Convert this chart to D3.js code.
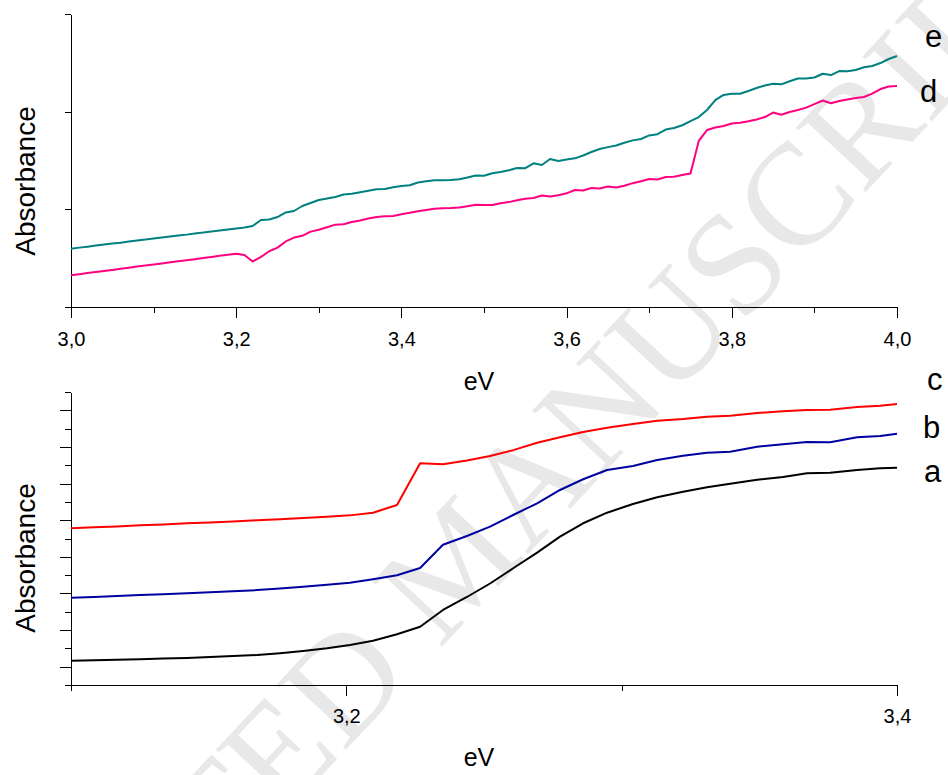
<!DOCTYPE html>
<html>
<head>
<meta charset="utf-8">
<script src="https://cdn.jsdelivr.net/npm/d3@7"></script>
<style>
  body { margin: 0; background: #fff; }
  text { font-family: "Liberation Sans", Arial, sans-serif; }
</style>
</head>
<body>
<div id="chart"></div>
<script>
// top panel: eV grid and the two spectra (d, e)
const topEV = [3.00,3.01,3.02,3.03,3.04,3.05,3.06,3.07,3.08,3.09,
  3.10,3.11,3.12,3.13,3.14,3.15,3.16,3.17,3.18,3.19,
  3.20,3.21,3.22,3.23,3.24,3.25,3.26,3.27,3.28,3.29,
  3.30,3.31,3.32,3.33,3.34,3.35,3.36,3.37,3.38,3.39,
  3.40,3.41,3.42,3.43,3.44,3.45,3.46,3.47,3.48,3.49,
  3.50,3.51,3.52,3.53,3.54,3.55,3.56,3.57,3.58,3.59,
  3.60,3.61,3.62,3.63,3.64,3.65,3.66,3.67,3.68,3.69,
  3.70,3.71,3.72,3.73,3.74,3.75,3.76,3.77,3.78,3.79,
  3.80,3.81,3.82,3.83,3.84,3.85,3.86,3.87,3.88,3.89,
  3.90,3.91,3.92,3.93,3.94,3.95,3.96,3.97,3.98,3.99,4.00];

const seriesE = [0.597,0.608,0.618,0.629,0.639,0.650,0.659,0.671,0.681,0.690,
  0.701,0.711,0.722,0.732,0.741,0.753,0.762,0.774,0.783,0.793,
  0.804,0.814,0.830,0.891,0.896,0.921,0.968,0.983,1.034,1.065,
  1.096,1.111,1.126,1.152,1.159,1.174,1.190,1.205,1.208,1.226,
  1.239,1.247,1.275,1.287,1.298,1.298,1.300,1.307,1.326,1.346,
  1.344,1.369,1.382,1.401,1.423,1.421,1.471,1.454,1.515,1.495,
  1.510,1.522,1.551,1.587,1.618,1.637,1.654,1.682,1.706,1.720,
  1.757,1.769,1.817,1.833,1.861,1.904,1.945,2.017,2.119,2.171,
  2.184,2.184,2.212,2.242,2.268,2.285,2.280,2.311,2.339,2.339,
  2.350,2.388,2.375,2.416,2.413,2.427,2.455,2.468,2.498,2.539,2.570];

const seriesD = [0.325,0.336,0.347,0.358,0.369,0.380,0.391,0.402,0.414,0.424,
  0.435,0.446,0.458,0.468,0.479,0.490,0.502,0.513,0.524,0.534,
  0.546,0.532,0.466,0.513,0.571,0.608,0.671,0.711,0.729,0.772,
  0.791,0.816,0.843,0.848,0.870,0.886,0.906,0.921,0.928,0.932,
  0.950,0.964,0.981,0.993,1.005,1.011,1.014,1.019,1.032,1.046,
  1.044,1.044,1.063,1.074,1.093,1.108,1.116,1.142,1.131,1.144,
  1.164,1.198,1.193,1.218,1.213,1.234,1.224,1.242,1.268,1.288,
  1.311,1.305,1.331,1.334,1.351,1.366,1.700,1.812,1.838,1.853,
  1.879,1.886,1.902,1.920,1.945,1.991,1.969,1.997,2.017,2.041,
  2.078,2.114,2.086,2.109,2.125,2.140,2.150,2.184,2.232,2.258,2.263];

// bottom panel: eV points and spectra a, b, c
const botEV = [3.1000,3.1084,3.1167,3.1251,3.1334,3.1421,3.1505,3.1588,3.1676,3.1759,
  3.1843,3.1930,3.2013,3.2097,3.2184,3.2268,3.2351,3.2438,3.2522,3.2606,
  3.2693,3.2776,3.2860,3.2947,3.3041,3.3129,3.3223,3.3310,3.3394,3.3492,
  3.3586,3.3673,3.3757,3.3855,3.3939,3.4000];

const seriesA = [1.327,1.349,1.376,1.404,1.442,1.480,1.529,1.584,1.638,1.737,
  1.862,2.004,2.185,2.419,2.769,3.184,4.096,4.806,5.543,6.374,
  7.226,8.099,8.831,9.410,9.885,10.251,10.557,10.797,10.994,11.213,
  11.360,11.562,11.595,11.742,11.835,11.868];

const seriesB = [4.768,4.812,4.861,4.910,4.959,5.014,5.068,5.123,5.183,5.265,
  5.363,5.478,5.587,5.773,5.991,6.390,7.662,8.138,8.646,9.284,
  9.923,10.650,11.234,11.742,11.961,12.288,12.523,12.687,12.742,13.015,
  13.146,13.271,13.255,13.528,13.599,13.725];

const seriesC = [8.558,8.613,8.662,8.717,8.771,8.826,8.880,8.935,8.995,9.055,
  9.115,9.181,9.263,9.410,9.831,12.108,12.054,12.261,12.507,12.824,
  13.233,13.528,13.818,14.053,14.255,14.435,14.528,14.653,14.708,14.855,
  14.948,15.019,15.036,15.183,15.254,15.347];

const topMajor = [3.0, 3.2, 3.4, 3.6, 3.8, 4.0];
const topMinor = [3.1, 3.3, 3.5, 3.7, 3.9];
const botMajor = [3.2, 3.4];
const botMinor = [3.1, 3.3];
const topYTicks = [0, 1, 2, 3];
const botYLong = [1, 3, 5, 7, 9, 11, 13, 15];
const botYShort = [0, 2, 4, 6, 8, 10, 12, 14, 16];

const fmt = d => d3.format(".1f")(d).replace(".", ",");

function init() {
    const svg = d3.select("#chart")
        .append("svg")
        .attr("width", 948)
        .attr("height", 775);

    // watermark, partly outside the picture as in the original
    svg.append("text")
        .attr("transform", "translate(490,595) rotate(-47)")
        .attr("text-anchor", "middle")
        .style("font-family", "'Liberation Serif', 'Times New Roman', serif")
        .style("font-size", "145px")
        .attr("fill", "#e8e8e8")
        .text("ACCEPTED MANUSCRIPT");

    let xTop = d3.scaleLinear([3.0, 4.0], [71, 897]);
    let yTop = d3.scaleLinear([0, 3], [307, 14]);
    let xBot = d3.scaleLinear([3.1, 3.4], [71, 897]);
    let yBot = d3.scaleLinear([0, 16], [685, 392]);

    // top axes
    drawXAxis(svg, xTop, 307, topMajor, topMinor, 14);
    svg.append("g")
        .attr("transform", "translate(71,0)")
        .call(d3.axisLeft(yTop).tickValues(topYTicks).tickSize(6).tickSizeOuter(0).tickFormat(""))
        .call(styleAxis);

    // bottom axes
    drawXAxis(svg, xBot, 685, botMajor, botMinor, 13);
    svg.append("g")
        .attr("transform", "translate(71,0)")
        .call(d3.axisLeft(yBot).tickValues(botYShort).tickSize(6).tickSizeOuter(0).tickFormat(""))
        .call(styleAxis);
    svg.append("g")
        .attr("transform", "translate(71,0)")
        .call(d3.axisLeft(yBot).tickValues(botYLong).tickSize(11).tickSizeOuter(0).tickFormat(""))
        .call(styleAxis);

    drawLine(svg, topEV, seriesE, xTop, yTop, "#008080");
    drawLine(svg, topEV, seriesD, xTop, yTop, "#ff0080");
    drawLine(svg, botEV, seriesC, xBot, yBot, "#ff0000");
    drawLine(svg, botEV, seriesB, xBot, yBot, "#0000a0");
    drawLine(svg, botEV, seriesA, xBot, yBot, "#000000");

    // axis titles
    svg.append("text").attr("x", 479).attr("y", 390).attr("text-anchor", "middle")
        .style("font-size", "25px").text("eV");
    svg.append("text").attr("x", 479).attr("y", 766).attr("text-anchor", "middle")
        .style("font-size", "25px").text("eV");
    svg.append("text").attr("transform", "translate(35,181) rotate(-90)").attr("text-anchor", "middle")
        .style("font-size", "28px").text("Absorbance");
    svg.append("text").attr("transform", "translate(35,558) rotate(-90)").attr("text-anchor", "middle")
        .style("font-size", "28px").text("Absorbance");

    // curve labels
    const labels = [["e", 925, 47], ["d", 920, 102], ["c", 927, 390], ["b", 923, 438], ["a", 924, 482]];
    svg.selectAll("text.lab")
        .data(labels)
        .enter()
        .append("text")
        .attr("class", "lab")
        .attr("x", d => d[1])
        .attr("y", d => d[2])
        .style("font-size", "31px")
        .text(d => d[0]);
}

function drawXAxis(svg, x, y, major, minor, pad) {
    svg.append("g")
        .attr("transform", "translate(0," + y + ")")
        .call(d3.axisBottom(x).tickValues(minor).tickSize(6).tickSizeOuter(0).tickFormat(""))
        .call(styleAxis);
    svg.append("g")
        .attr("transform", "translate(0," + y + ")")
        .call(d3.axisBottom(x).tickValues(major).tickSize(11).tickSizeOuter(0).tickPadding(pad).tickFormat(fmt))
        .call(styleAxis)
        .selectAll("text")
        .style("font-size", "20px");
}

function styleAxis(g) {
    g.attr("shape-rendering", "crispEdges");
    g.selectAll("path, line").attr("stroke", "#000");
    g.selectAll("text").attr("fill", "#000").style("font-family", "'Liberation Sans', Arial, sans-serif");
}

function drawLine(svg, xs, ys, x, y, color) {
    let line = d3.line()
        .x((d, i) => x(xs[i]))
        .y(d => y(d));
    svg.append("path")
        .datum(ys)
        .attr("fill", "none")
        .attr("stroke", color)
        .attr("stroke-width", 2)
        .attr("stroke-linejoin", "round")
        .attr("d", line);
}

window.onload = init;
</script>
</body>
</html>
